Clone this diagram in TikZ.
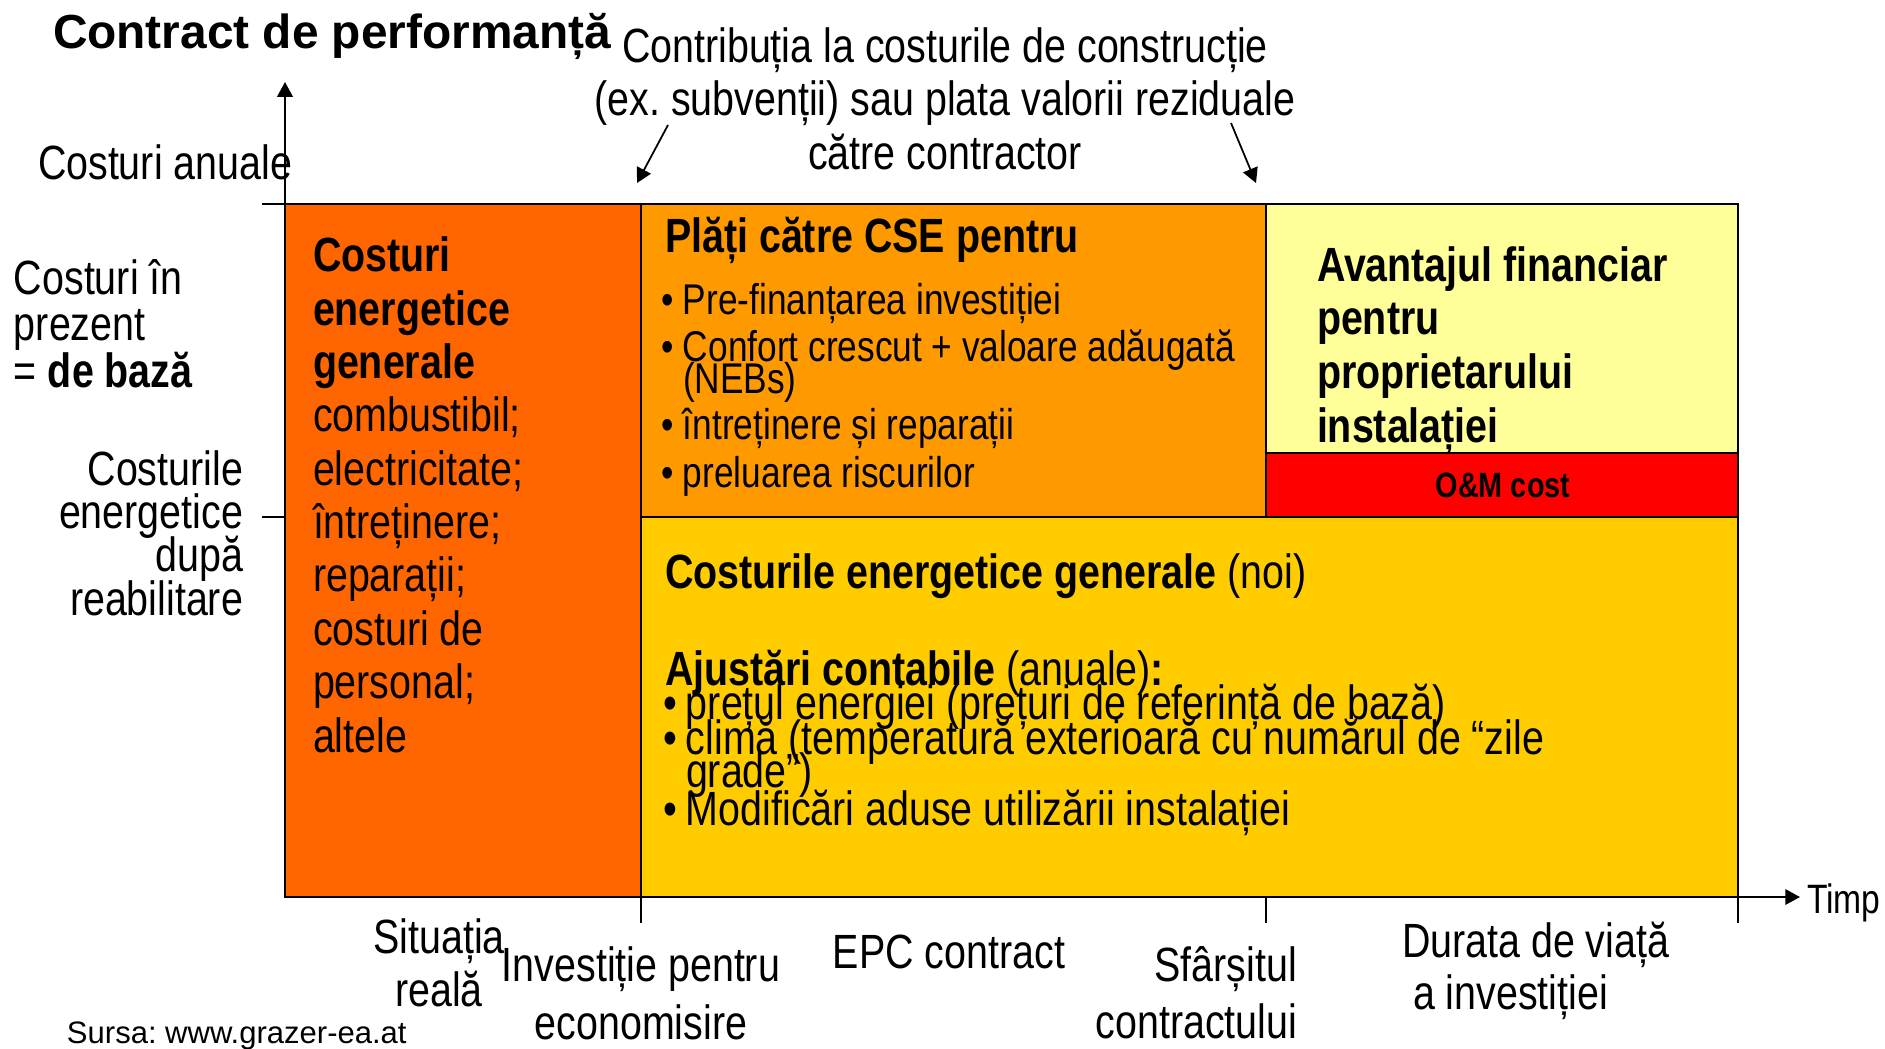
\documentclass[tikz,border=0pt]{standalone}
\usepackage{fontspec}
\setmainfont{Liberation Sans}
\newfontfamily\nar[FakeStretch=0.82]{Liberation Sans}
\usetikzlibrary{arrows.meta}
\setlength{\lineskiplimit}{-100pt}
\setlength{\lineskip}{0pt}
\frenchspacing
\definecolor{cDark}{RGB}{255,102,0}
\definecolor{cOrange}{RGB}{255,153,0}
\definecolor{cLight}{RGB}{255,255,153}
\definecolor{cGold}{RGB}{255,204,0}
\definecolor{cRed}{RGB}{255,0,0}
\tikzset{
  boxline/.style={draw=black, line width=0.6pt},
  axisline/.style={draw=black, line width=0.6pt},
  tickline/.style={draw=black, line width=0.5pt},
  tip/.style={-{Triangle[length=4.2pt,width=4.4pt]}},
  txt/.style={inner sep=0pt, outer sep=0pt, anchor=base west, align=left, font=\nar\fontsize{13.66pt}{15.17pt}\selectfont},
}
\begin{document}
\begin{tikzpicture}[x=0.01cm,y=-0.01cm]
\useasboundingbox (0,0) rectangle (1885,1048);
% boxes
\path[boxline, fill=cDark]   (285,204) rectangle (641,897);
\path[boxline, fill=cOrange] (641,204) rectangle (1266,517);
\path[boxline, fill=cLight]  (1266,204) rectangle (1738,453);
\path[boxline, fill=cRed]    (1266,453) rectangle (1738,517);
\path[boxline, fill=cGold]   (641,517) rectangle (1738,897);
% axes
\coordinate (origin) at (285,897);
\coordinate (ytop) at (285,82);
\coordinate (xend) at (1800,897);
\draw[axisline, tip] (origin) -- (ytop);
\draw[axisline, tip] (origin) -- (xend);
% ticks
\coordinate (t1a) at (262,204); \coordinate (t1b) at (285,204);
\coordinate (t2a) at (262,517); \coordinate (t2b) at (285,517);
\coordinate (t3a) at (641,897); \coordinate (t3b) at (641,923);
\coordinate (t4a) at (1266,897); \coordinate (t4b) at (1266,923);
\coordinate (t5a) at (1738,897); \coordinate (t5b) at (1738,923);
\draw[tickline] (t1a) -- (t1b);
\draw[tickline] (t2a) -- (t2b);
\draw[tickline] (t3a) -- (t3b);
\draw[tickline] (t4a) -- (t4b);
\draw[tickline] (t5a) -- (t5b);
% title
\node[txt, font=\bfseries\fontsize{13.6pt}{15pt}\selectfont] (title) at (53,48) {Contract de performanță};
% contribution text + arrows (multi-line nodes are anchored at the baseline of their last line)
\node[txt, anchor=base, align=center, font=\nar\fontsize{13.66pt}{15.2pt}\selectfont] (contrib) at (945,169)
  {Contribuția la costurile de construcție\\(ex. subvenții) sau plata valorii reziduale\\către contractor};
\coordinate (a1s) at (668,125); \coordinate (a1e) at (637,183);
\coordinate (a2s) at (1231,123); \coordinate (a2e) at (1256,183);
\draw[tickline, tip] (a1s) -- (a1e);
\draw[tickline, tip] (a2s) -- (a2e);
% left labels
\node[txt] (yl) at (38,179) {Costuri anuale};
\node[txt, font=\nar\fontsize{13.66pt}{13.09pt}\selectfont] (present) at (14,387) {Costuri în\\prezent\\= \textbf{de bază}};
\node[txt, anchor=base east, align=right, font=\nar\fontsize{13.66pt}{12.3pt}\selectfont] (after) at (243,615) {Costurile\\energetice\\după\\reabilitare};
% left box text
\node[txt] (general) at (313,752) {\textbf{Costuri}\\\textbf{energetice}\\\textbf{generale}\\combustibil;\\electricitate;\\întreținere;\\reparații;\\costuri de\\personal;\\altele};
% payments box
\node[txt, font=\nar\bfseries\fontsize{13.66pt}{15pt}\selectfont] (pay) at (665,252) {Plăți către CSE pentru};
\node[txt, font=\nar\fontsize{12.23pt}{9.1pt}\selectfont] (paylist) at (683,487)
  {\llap{•\kern2.5pt}Pre-finanțarea investiției\\[4.3pt]
   \llap{•\kern2.5pt}Confort crescut + valoare adăugată\\
   (NEBs)\\[4.0pt]
   \llap{•\kern2.5pt}întreținere și reparații\\[4.3pt]
   \llap{•\kern2.5pt}preluarea riscurilor};
% owner advantage
\node[txt, font=\nar\bfseries\fontsize{13.66pt}{15.22pt}\selectfont] (adv) at (1317,442) {Avantajul financiar\\pentru\\proprietarului\\instalației};
\node[txt, anchor=base, font=\nar\bfseries\fontsize{10pt}{12pt}\selectfont] (om) at (1503,497) {O\&M cost};
% gold box
\node[txt] (newcost) at (665,588) {\textbf{Costurile energetice generale} (noi)};
\node[txt] (adj) at (665,685) {\textbf{Ajustări contabile} (anuale)\textbf{:}};
\node[txt, font=\nar\fontsize{13.66pt}{9.4pt}\selectfont] (adjlist) at (686,825)
  {\llap{•\kern2.5pt}prețul energiei (prețuri de referință de bază)\\[0.6pt]
   \llap{•\kern2.5pt}climă (temperatură exterioară cu numărul de “zile\\
   grade”)\\[1.2pt]
   \llap{•\kern2.5pt}Modificări aduse utilizării instalației};
% axis labels
\node[txt, font=\nar\fontsize{11.67pt}{13pt}\selectfont] (timp) at (1807,913) {Timp};
\node[txt, anchor=base, align=center, font=\nar\fontsize{13.66pt}{14.8pt}\selectfont] (sit) at (439,1006) {Situația\\reală};
\node[txt, anchor=base, align=center, font=\nar\fontsize{13.66pt}{16.3pt}\selectfont] (inv) at (641,1039) {Investiție pentru\\economisire};
\node[txt, anchor=base] (epc) at (949,968) {EPC contract};
\node[txt, anchor=base east, align=right, font=\nar\fontsize{13.66pt}{16pt}\selectfont] (end) at (1297,1038) {Sfârșitul\\contractului};
\node[txt] (life1) at (1402,957) {Durata de viață};
\node[txt] (life2) at (1413,1009) {a investiției};
\node[txt, font=\fontsize{8.82pt}{10pt}\selectfont] (src) at (67,1043) {Sursa: www.grazer-ea.at};
\end{tikzpicture}
\end{document}
